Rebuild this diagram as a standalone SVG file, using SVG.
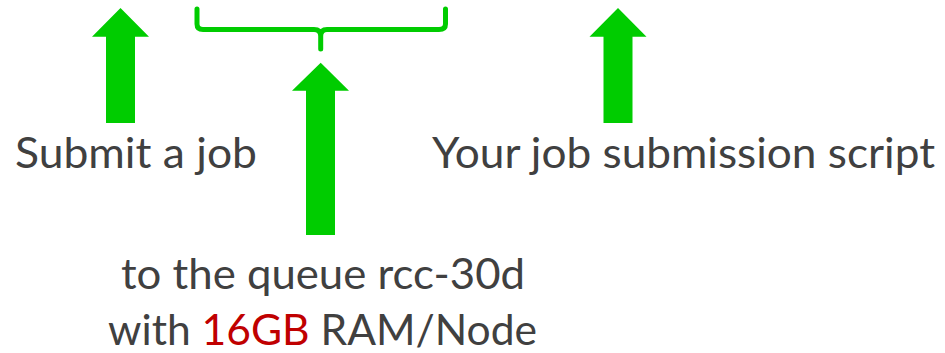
<svg xmlns="http://www.w3.org/2000/svg" width="945" height="353" viewBox="0 0 945 353">
<style>
.arrow{fill:#00CC00;}
.brace{fill:none;stroke:#00CC00;stroke-width:5;stroke-linecap:round;stroke-linejoin:round;}
.lbl{font-family:Lato,"Open Sans","Liberation Sans",sans-serif;font-size:42px;fill:#404040;}
.red{fill:#C00000;}
</style>
<rect width="945" height="353" fill="#FFFFFF"/>
<g id="connectors">
<path id="brace" class="brace" d="M197,9 L197,24 Q197,29.5 203,29.5 L314,29.5 Q320.7,29.5 320.7,36 L320.7,49 M320.7,36 Q320.7,29.5 327,29.5 L439,29.5 Q445.5,29.5 445.5,24 L445.5,9"/>
<polygon id="arrow-submit" class="arrow" points="120.5,8 149,36.7 135,36.7 135,123 106,123 106,36.7 92,36.7"/>
<polygon id="arrow-queue" class="arrow" points="320.7,62.7 349,90.7 335,90.7 335,235 306,235 306,90.7 292,90.7"/>
<polygon id="arrow-script" class="arrow" points="618,8 646.5,36.7 632.5,36.7 632.5,123 603.5,123 603.5,36.7 589.5,36.7"/>
</g>
<g id="node-submit">
<text class="lbl" x="15" y="168" textLength="242" lengthAdjust="spacingAndGlyphs">Submit a job</text>
</g>
<g id="node-script">
<text class="lbl" x="432" y="168" textLength="503" lengthAdjust="spacingAndGlyphs">Your job submission script</text>
</g>
<g id="node-queue">
<text class="lbl" x="121" y="289" textLength="404" lengthAdjust="spacingAndGlyphs">to the queue rcc-30d</text>
<text class="lbl" x="108" y="345" textLength="429" lengthAdjust="spacingAndGlyphs">with <tspan class="red">16GB</tspan> RAM/Node</text>
</g>
</svg>
